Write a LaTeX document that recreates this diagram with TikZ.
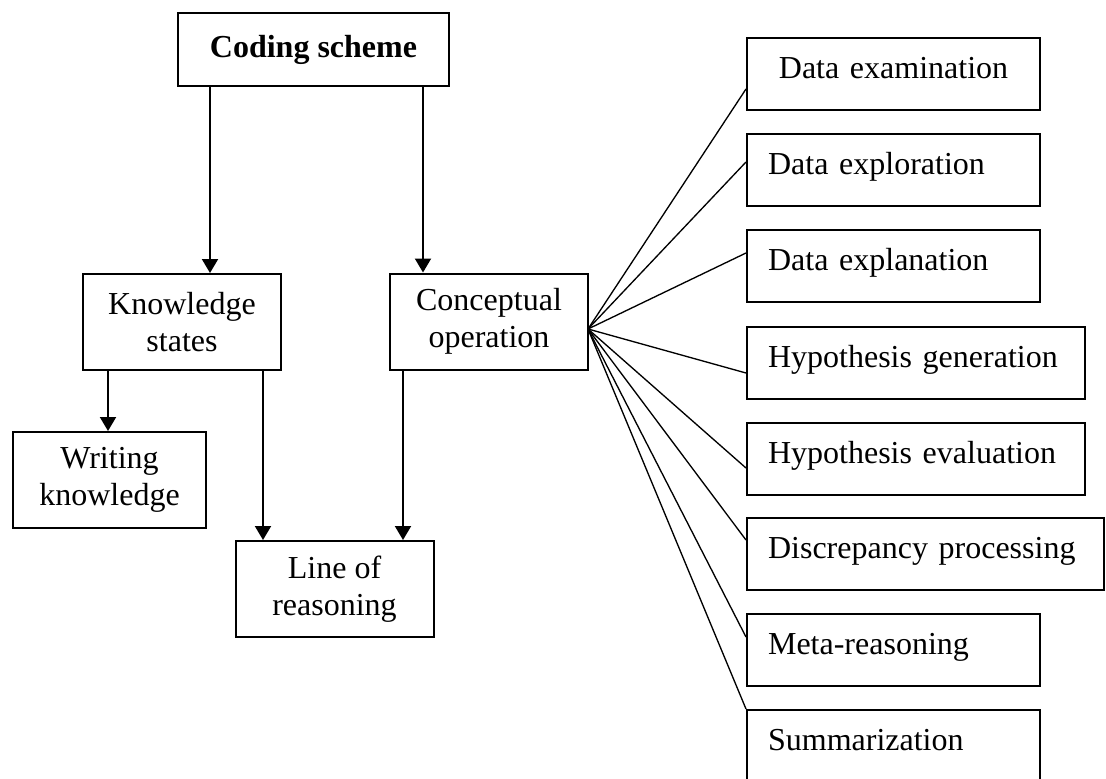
\documentclass[tikz,border=0pt]{standalone}
\usepackage{fontspec}
\setmainfont{Liberation Serif}
\usetikzlibrary{arrows.meta}
\tikzset{every node/.append style={font=\fontsize{12}{13.8}\selectfont}}
\tikzset{
  lbox/.style={draw, line width=0.75pt, inner sep=0pt, align=center, minimum width=74.25pt, minimum height=36pt},
  rbox/.style={draw, line width=0.75pt, anchor=north west, inner ysep=0pt, inner xsep=7.9pt,
    text height=15pt, text depth=12pt, text width=94.1pt, align=left}
}

\begin{document}
\begin{tikzpicture}[x=0.375pt, y=-0.375pt, >={Triangle[length=5.25pt, width=6pt]},
    link/.style={->, line width=0.75pt}, fan/.style={line width=0.5pt}]
    \useasboundingbox (0,0) rectangle (1106,778);
    % left: the scheme and its parts
    \node[lbox, minimum width=101.6pt, minimum height=27.4pt, font=\fontsize{12}{13.8}\selectfont\bfseries] (code) at (313.5,49.5) {Coding scheme};
    \node[lbox] (know) at (182,322) {Knowledge\\states};
    \node[lbox] (cop) at (489,321.5) {Conceptual\\operation};
    \node[lbox, minimum width=72.4pt] (wk) at (109.5,480) {Writing\\knowledge};
    \node[lbox] (lor) at (334.5,589) {Line of\\reasoning};
    \draw[link] (210,0 |- code.south) -- (210,0 |- know.north);
    \draw[link] (423,0 |- code.south) -- (423,0 |- cop.north);
    \draw[link] (108,0 |- know.south) -- (108,0 |- wk.north);
    \draw[link] (263,0 |- know.south) -- (263,0 |- lor.north);
    \draw[link] (403,0 |- cop.south) -- (403,0 |- lor.north);
    % right: the operations
    \node[rbox, align=center] (dexa) at (746,37) {Data examination};
    \node[rbox] (dexp) at (746,133) {Data exploration};
    \node[rbox] (dexl) at (746,229) {Data explanation};
    \node[rbox, text width=110.95pt] (hgen) at (746,326) {Hypothesis generation};
    \node[rbox, text width=110.95pt] (heval) at (746,422) {Hypothesis evaluation};
    \node[rbox, text width=118.1pt] (disc) at (746,517) {Discrepancy processing};
    \node[rbox] (meta) at (746,613) {Meta-reasoning};
    \node[rbox] (summ) at (746,709) {Summarization};
    \coordinate (fan) at (588,329);
    \foreach \n/\d in {dexa/52, dexp/29, dexl/24, hgen/47, heval/46, disc/23, meta/24, summ/0}
        \draw[fan] (fan) -- ([yshift=-\d*0.375pt]\n.north west);
\end{tikzpicture}
\end{document}
